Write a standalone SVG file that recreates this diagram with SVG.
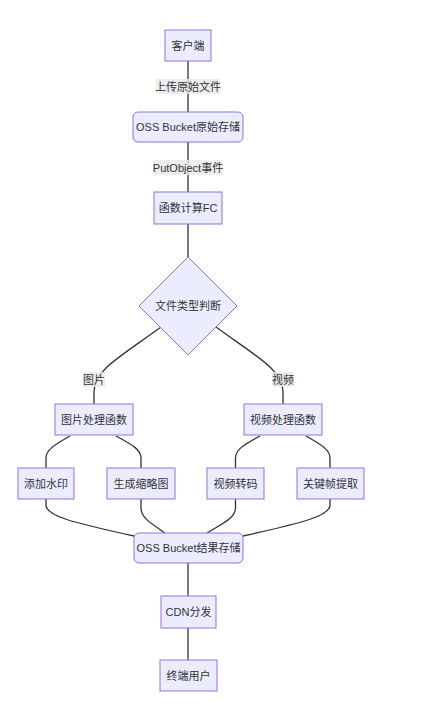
<svg xmlns="http://www.w3.org/2000/svg" width="440" height="709" viewBox="0 0 440 709">
<defs>
<style>
.n{fill:#ECECFF;stroke:#9370DB;stroke-width:1}
.t{font-family:"Liberation Sans","Noto Sans CJK SC",sans-serif;font-size:11px;fill:#333;text-anchor:middle;dominant-baseline:central}
.e{fill:none;stroke:#333;stroke-width:1.3}
.lb{fill:#e8e8e8;fill-opacity:0.8}
</style>
</defs>
<rect width="440" height="709" fill="#fff"/>
<g id="edges">
<path class="e" d="M188,61 L188,112"/>
<path class="e" d="M188,142 L188,192"/>
<path class="e" d="M188,224 L188,257"/>
<path class="e" d="M161,327 C120,357 94,370 94,392 L94,404"/>
<path class="e" d="M216,327 C257,357 283,370 283,392 L283,404"/>
<path class="e" d="M70,436 C54,445 46,450 46,458 L46,468"/>
<path class="e" d="M116,436 C133,445 141,450 141,458 L141,468"/>
<path class="e" d="M260,436 C243,445 235.5,450 235.5,458 L235.5,468"/>
<path class="e" d="M306,436 C322,445 330,450 330,458 L330,468"/>
<path class="e" d="M46,499 L46,506 C48,516 70,522 134,536"/>
<path class="e" d="M141,499 L141,508 C141,518 152,524 165,533"/>
<path class="e" d="M235.5,499 L235.5,508 C235.5,518 222,524 207,533"/>
<path class="e" d="M330,499 L330,506 C328,516 306,522 243,536"/>
<path class="e" d="M188,563 L188,596"/>
<path class="e" d="M188,628 L188,660"/>
<rect class="lb" x="156" y="79" width="64" height="15"/>
<text class="t" x="188" y="86.5">上传原始文件</text>
<rect class="lb" x="153" y="160" width="70" height="15"/>
<text class="t" x="188" y="167.5">PutObject事件</text>
<rect class="lb" x="83" y="372" width="22" height="15"/>
<text class="t" x="94" y="379.5">图片</text>
<rect class="lb" x="272" y="372" width="22" height="15"/>
<text class="t" x="283" y="379.5">视频</text>
</g>
<g id="client"><rect class="n" x="165" y="30" width="46" height="31"/><text class="t" x="188" y="45.5">客户端</text></g>
<g id="ossRaw"><rect class="n" x="133" y="112" width="110" height="30" rx="5"/><text class="t" x="188" y="127">OSS Bucket原始存储</text></g>
<g id="fc"><rect class="n" x="154" y="192" width="68" height="32"/><text class="t" x="188" y="208">函数计算FC</text></g>
<g id="judge"><polygon class="n" points="188,257 237,306 188,355 139,306"/><text class="t" x="188" y="306">文件类型判断</text></g>
<g id="imgFn"><rect class="n" x="55" y="404" width="78" height="31"/><text class="t" x="94" y="419.5">图片处理函数</text></g>
<g id="vidFn"><rect class="n" x="244" y="404" width="78" height="31"/><text class="t" x="283" y="419.5">视频处理函数</text></g>
<g id="watermark"><rect class="n" x="18" y="468" width="56" height="31"/><text class="t" x="46" y="483.5">添加水印</text></g>
<g id="thumb"><rect class="n" x="107" y="468" width="68" height="31"/><text class="t" x="141" y="483.5">生成缩略图</text></g>
<g id="transcode"><rect class="n" x="207" y="468" width="57" height="31"/><text class="t" x="235.5" y="483.5">视频转码</text></g>
<g id="keyframe"><rect class="n" x="297" y="468" width="67" height="31"/><text class="t" x="330.5" y="483.5">关键帧提取</text></g>
<g id="ossResult"><rect class="n" x="134" y="533" width="109" height="30" rx="5"/><text class="t" x="188.5" y="548">OSS Bucket结果存储</text></g>
<g id="cdn"><rect class="n" x="161" y="596" width="55" height="32"/><text class="t" x="188.5" y="612">CDN分发</text></g>
<g id="user"><rect class="n" x="160" y="660" width="57" height="31"/><text class="t" x="188.5" y="675.5">终端用户</text></g>
</svg>
